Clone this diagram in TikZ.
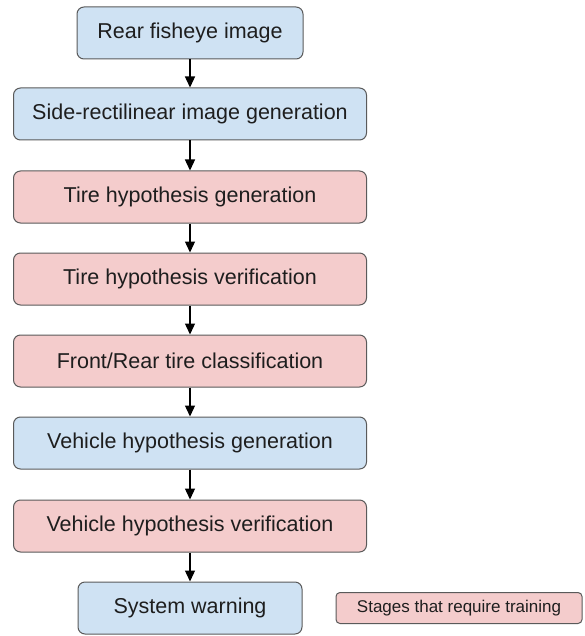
\documentclass[tikz,border=0pt]{standalone}
\usepackage{fontspec}
\setmainfont{Liberation Sans}
\usetikzlibrary{arrows.meta,positioning}
\definecolor{stageblue}{HTML}{CFE2F3}
\definecolor{stagered}{HTML}{F4CCCC}
\definecolor{stageedge}{HTML}{5A5A5A}
\definecolor{stagetext}{HTML}{1E1E1E}

\tikzset{
  stage/.style={draw=stageedge, line width=1pt, rounded corners=7pt,
    minimum height=52pt, inner sep=0pt, text=stagetext,
    font=\fontsize{21.5}{25}\selectfont},
  plain/.style={stage, fill=stageblue},
  train/.style={stage, fill=stagered},
  flow/.style={-{Triangle[length=11pt,width=10pt]}, line width=1.3pt, black}
}

\begin{document}
\begin{tikzpicture}[x=1pt, y=-1pt]
  \useasboundingbox (0,0) rectangle (585,636);

  % pipeline stages, top to bottom
  \node[plain, minimum width=226pt] (fisheye) at (190,33) {Rear fisheye image};
  \node[plain, minimum width=353pt] (rectlin) at (190,114) {Side-rectilinear image generation};
  \node[train, minimum width=353pt] (tiregen) at (190,197) {Tire hypothesis generation};
  \node[train, minimum width=353pt] (tirever) at (190,279) {Tire hypothesis verification};
  \node[train, minimum width=353pt] (tirecls) at (190,361) {Front/Rear tire classification};
  \node[plain, minimum width=353pt] (vehgen) at (190,443) {Vehicle hypothesis generation};
  \node[train, minimum width=353pt] (vehver) at (190,526) {Vehicle hypothesis verification};
  \node[plain, minimum width=224pt] (warning) at (190,608) {System warning};

  % legend
  \node[train, minimum width=246pt, minimum height=31pt, rounded corners=4pt,
    font=\fontsize{17}{20}\selectfont] (legend) at (459,608) {Stages that require training};

  % arrows
  \foreach \a/\b in {fisheye/rectlin, rectlin/tiregen, tiregen/tirever,
    tirever/tirecls, tirecls/vehgen, vehgen/vehver, vehver/warning} {
    \draw[flow] (\a.south) -- (\b.north);
  }
\end{tikzpicture}
\end{document}
